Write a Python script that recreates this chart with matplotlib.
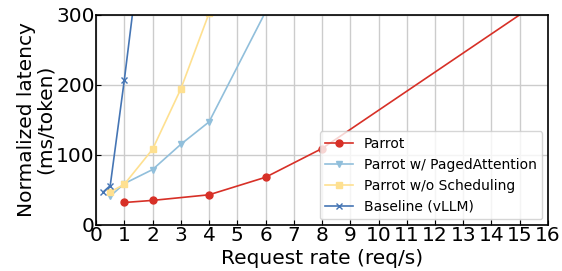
import matplotlib
matplotlib.use("Agg")
import matplotlib.pyplot as plt

# Parrot
parrot_x = [1, 2, 4, 6, 8, 16]
parrot_y = [32, 35, 43, 68, 109, 327]
# Parrot w/ PagedAttention
paged_x = [0.5, 1, 2, 3, 4, 6]
paged_y = [41, 59, 79, 115, 147, 304]
# Parrot w/o Scheduling
sched_x = [0.5, 1, 2, 3, 4]
sched_y = [47, 58, 108, 194, 302]
# Baseline (vLLM)
base_x = [0.25, 0.5, 1, 1.5]
base_y = [47, 56, 207, 370]

x_ticks = list(range(0, 17))
y_ticks = [0, 100, 200, 300]

fig = plt.figure(figsize=(5.62, 2.71), dpi=100)
ax = fig.add_axes([0.171, 0.170, 0.804, 0.776])

ax.plot(parrot_x, parrot_y, color="#d73027", marker="o", markersize=5, lw=1.2, label="Parrot")
ax.plot(paged_x, paged_y, color="#91bfdb", marker="v", markersize=5, lw=1.2, label="Parrot w/ PagedAttention")
ax.plot(sched_x, sched_y, color="#fee090", marker="s", markersize=5, lw=1.2, label="Parrot w/o Scheduling")
ax.plot(base_x, base_y, color="#4575b4", marker="x", markersize=5, lw=1.2, label="Baseline (vLLM)")

ax.set_xlim(0, 16)
ax.set_ylim(0, 300)
ax.set_xticks(x_ticks)
ax.set_yticks(y_ticks)
ax.tick_params(direction="in", labelsize=14.5, pad=1)
ax.grid(True, color="#cccccc", lw=1)
ax.set_axisbelow(True)
for s in ax.spines.values():
    s.set_linewidth(1.2)

ax.set_xlabel("Request rate (req/s)", fontsize=14.5, labelpad=3)
ax.set_ylabel("Normalized latency\n(ms/token)", fontsize=14.5, labelpad=1, linespacing=1.0)

ax.legend(loc="lower right", fontsize=10, borderaxespad=0.4)

fig.savefig("out.png", dpi=100)
